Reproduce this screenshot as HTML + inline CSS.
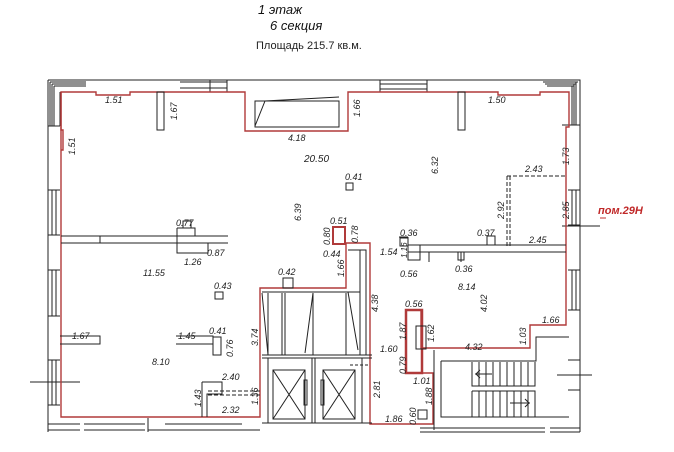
<!DOCTYPE html>
<html><head><meta charset="utf-8"><style>
html,body{margin:0;padding:0;background:#fff;}
svg{display:block;}
text{font-family:"Liberation Sans",sans-serif;font-style:italic;font-size:9px;fill:#222;}
.t{font-size:13px;fill:#111;}
</style></head><body>
<svg width="674" height="452" viewBox="0 0 674 452" xmlns="http://www.w3.org/2000/svg">
<rect width="674" height="452" fill="#fff"/>
<text class="t" x="258" y="14">1 этаж</text>
<text class="t" x="270" y="30">6 секция</text>
<text x="256" y="49" style="font-style:normal;font-size:11px">Площадь 215.7 кв.м.</text>

<!-- exterior walls -->
<g fill="none" stroke="#222" stroke-width="1">
<path d="M48,80 H580 V432"/>
<path d="M48,80 V432"/>
<path d="M50,82 H86 M52,84 H86 M54,86 H86 M50,82 V126 M52,84 V126 M54,86 V126"/>
<path d="M60,92 V126 M48,126 H60"/>
<path d="M210,80 V92 M227,80 V92 M180,82 H227 M180,88 H227"/>
<path d="M380,80 V92 M427,80 V92 M380,84 H427 M380,89 H427"/>
<path d="M543,82 H578 M545,84 H576 M547,86 H574 M576,82 V125 M574,84 V125 M572,86 V125 M562,125 H580"/>
<path d="M48,190 H60 M48,235 H60 M52,190 V235 M56,190 V235"/>
<path d="M48,270 H60 M48,316 H60 M52,270 V316 M56,270 V316"/>
<path d="M48,360 H60 M48,405 H60 M52,360 V405 M56,405 V360"/>
<path d="M568,190 H580 M568,225 H580 M572,190 V225 M576,190 V225"/>
<path d="M568,270 H580 M568,310 H580 M572,270 V310 M576,270 V310"/>
<path d="M568,360 H580 M568,390 H580"/>
<path d="M48,424 H80 M48,430 H80 M84,424 H145 M84,430 H145 M148,418 V432 M165,424 H242 M165,430 H242 M148,430 H260"/>
<path d="M420,428 H545 M420,432 H545 M550,428 H580 M550,432 H580"/>
<path d="M30,382 H80 M557,375 H592 M562,226 H600"/>
</g>
<path d="M600,218 H606" stroke="#c03030"/>
<text x="598" y="214" style="fill:#c02828;font-size:11px;font-weight:bold">пом.29Н</text>

<!-- red boundary -->
<g fill="none" stroke="#b03a3a" stroke-width="1.4">
<path d="M61,92 H96 V95 H130 V92 H245 V131 H348 V92 H498 V95 H540 V92 H569 V127 H566 V325 H530 V348 H421 V310 H406 V373 H433 V424 H370 V243 H346 V288 H260 V417 H61 Z"/>
<path d="M61,92 V130 H63 V150 H61"/>
<rect x="333" y="227" width="12" height="17" stroke-width="2"/>
<rect x="406" y="310" width="16" height="63" stroke-width="2.5"/>
</g>

<!-- interior -->
<g fill="none" stroke="#222" stroke-width="1">
<rect x="157" y="92" width="7" height="38"/>
<rect x="458" y="92" width="7" height="38"/>
<path d="M255,101 H339 V127 H255 Z M255,126 L265,101 L339,97"/>
<path d="M61,236 H228 M61,243 H228 M100,236 V243"/>
<path d="M177,228 H195 V236 M177,228 V253 H208 V243"/>
<rect x="183" y="221" width="8" height="7"/>
<rect x="346" y="183" width="7" height="7"/>
<path d="M408,245 H566 M408,252 H566"/>
<path d="M408,237 V260 H420 V245 M399,237 H408"/>
<rect x="400" y="238" width="8" height="8"/>
<rect x="487" y="236" width="8" height="9"/>
<path d="M429,252 V262 M461,252 V262"/>
<rect x="458" y="252" width="6" height="8"/>
<rect x="215" y="292" width="8" height="7"/>
<rect x="283" y="278" width="10" height="10"/>
<path d="M60,336 H100 V344 H60 M176,336 H213 V344 H176"/>
<rect x="213" y="337" width="8" height="18"/>
<path d="M202,382 H222 V394 H207 V417 M202,382 V417"/>
<path d="M208,391 H260 M208,395 H260" stroke-dasharray="4,2"/>
<path d="M350,365 H370" stroke-dasharray="3,2"/>
<path d="M507,176 H566 M507,176 V247 M510,176 V247" stroke-dasharray="4,2"/>
<path d="M262,292 H360 M262,355 H372 M262,358 H372"/>
<path d="M268,293 V355 M282,293 V355 M285,293 V355 M313,293 V355 M346,293 V355"/>
<path d="M262,293 L268,355 M313,293 L305,353 M348,292 L358,350"/>
<path d="M348,250 H366 V355 M360,250 V355"/>
<path d="M268,358 V423 M312,358 V423 M315,358 V423 M362,358 V423 M262,423 H372"/>
<rect x="273" y="370" width="32" height="49"/>
<path d="M273,370 L305,419 M305,370 L273,419"/>
<rect x="323" y="370" width="32" height="49"/>
<path d="M323,370 L355,419 M355,370 L323,419"/>
<rect x="304" y="380" width="3" height="25"/>
<rect x="321" y="380" width="3" height="25"/>
<rect x="416" y="326" width="10" height="23"/>
<rect x="418" y="410" width="9" height="9"/>
<path d="M434,350 V430 M441,361 H536 V337 H569 M441,361 V417 H569"/>
<path d="M472,362 V386 H535 V362 M472,391 V417 M472,391 H535 V417"/>
<path d="M479,362V386M486,362V386M493,362V386M500,362V386M507,362V386M514,362V386M521,362V386M528,362V386"/>
<path d="M479,391V417M486,391V417M493,391V417M500,391V417M507,391V417M514,391V417M521,391V417M528,391V417"/>
<path d="M475,374 H492 M480,370 L476,374 L480,378"/>
<path d="M510,403 H530 M525,399 L529,403 L525,407"/>
</g>

<!-- labels -->
<text x="105" y="103">1.51</text>
<text x="488" y="103">1.50</text>
<text transform="translate(177,120) rotate(-90)">1.67</text>
<text transform="translate(360,117) rotate(-90)">1.66</text>
<text transform="translate(75,155) rotate(-90)">1.51</text>
<text x="288" y="141">4.18</text>
<text x="304" y="162" style="font-size:10px">20.50</text>
<text x="345" y="180">0.41</text>
<text transform="translate(438,174) rotate(-90)">6.32</text>
<text transform="translate(301,221) rotate(-90)">6.39</text>
<text transform="translate(569,165) rotate(-90)">1.73</text>
<text x="525" y="172">2.43</text>
<text transform="translate(504,219) rotate(-90)">2.92</text>
<text transform="translate(569,219) rotate(-90)">2.85</text>
<text x="529" y="243">2.45</text>
<text x="477" y="236">0.37</text>
<text x="400" y="236">0.36</text>
<text x="380" y="255">1.54</text>
<text transform="translate(407,258) rotate(-90)" style="font-size:8px">1.16</text>
<text x="400" y="277">0.56</text>
<text x="455" y="272">0.36</text>
<text x="458" y="290">8.14</text>
<text transform="translate(487,312) rotate(-90)">4.02</text>
<text x="542" y="323">1.66</text>
<text transform="translate(526,345) rotate(-90)">1.03</text>
<text x="465" y="350">4.32</text>
<text x="405" y="307">0.56</text>
<text transform="translate(406,340) rotate(-90)">1.87</text>
<text transform="translate(434,342) rotate(-90)">1.62</text>
<text x="380" y="352">1.60</text>
<text transform="translate(406,374) rotate(-90)">0.79</text>
<text x="413" y="384">1.01</text>
<text transform="translate(432,405) rotate(-90)">1.88</text>
<text transform="translate(416,425) rotate(-90)">0.60</text>
<text x="385" y="422">1.86</text>
<text transform="translate(380,398) rotate(-90)">2.81</text>
<text transform="translate(378,312) rotate(-90)">4.38</text>
<text x="330" y="224">0.51</text>
<text transform="translate(330,245) rotate(-90)">0.80</text>
<text transform="translate(358,243) rotate(-90)">0.78</text>
<text x="323" y="257">0.44</text>
<text transform="translate(344,277) rotate(-90)">1.66</text>
<text x="278" y="275">0.42</text>
<text transform="translate(258,346) rotate(-90)">3.74</text>
<text x="176" y="226">0.77</text>
<text x="207" y="256">0.87</text>
<text x="184" y="265">1.26</text>
<text x="143" y="276">11.55</text>
<text x="214" y="289">0.43</text>
<text x="72" y="339">1.67</text>
<text x="178" y="339">1.45</text>
<text x="209" y="334">0.41</text>
<text transform="translate(233,357) rotate(-90)">0.76</text>
<text x="152" y="365">8.10</text>
<text x="222" y="380">2.40</text>
<text transform="translate(201,407) rotate(-90)">1.43</text>
<text transform="translate(258,405) rotate(-90)">1.36</text>
<text x="222" y="413">2.32</text>
</svg>
</body></html>
